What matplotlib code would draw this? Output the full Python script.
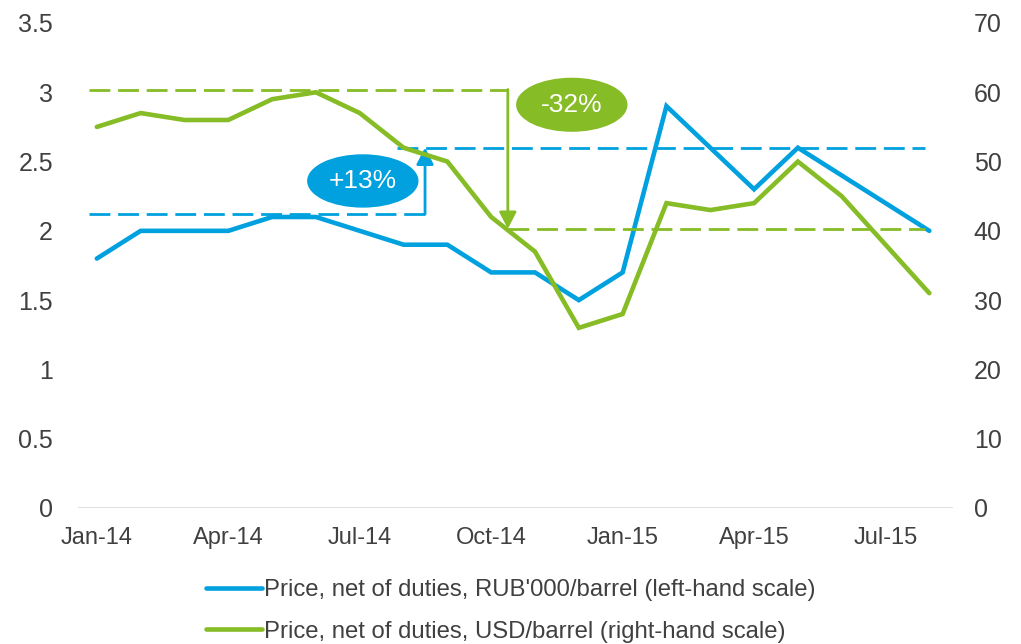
import matplotlib
matplotlib.use("Agg")
import matplotlib.pyplot as plt
from matplotlib.patches import Ellipse

# ── data ─────────────────────────────────────────────────────────────────────
MONTHS = ["Jan-14", "Feb-14", "Mar-14", "Apr-14", "May-14", "Jun-14", "Jul-14",
          "Aug-14", "Sep-14", "Oct-14", "Nov-14", "Dec-14", "Jan-15", "Feb-15",
          "Mar-15", "Apr-15", "May-15", "Jun-15", "Jul-15", "Aug-15"]
RUB_PRICE = [1.8, 2.0, 2.0, 2.0, 2.1, 2.1, 2.0, 1.9, 1.9, 1.7,
             1.7, 1.5, 1.7, 2.9, 2.6, 2.3, 2.6, 2.4, 2.2, 2.0]
USD_PRICE = [55, 57, 56, 56, 59, 60, 57, 52, 50, 42,
             37, 26, 28, 44, 43, 44, 50, 45, 38, 31]
TICK_LABELS = ["Jan-14", "Apr-14", "Jul-14", "Oct-14", "Jan-15", "Apr-15", "Jul-15"]

RUB_FROM, RUB_TO = 2.12, 2.60      # left scale, +13%
USD_FROM, USD_TO = 60.4, 40.3      # right scale, -32%

BLUE = "#00A1DE"
GREEN = "#86BC25"
TEXT = "#404040"

plt.rcParams["font.family"] = ["Liberation Sans", "DejaVu Sans"]

fig = plt.figure(figsize=(10.21, 6.44), dpi=100)
ax = fig.add_axes([0.0764, 0.2112, 0.857, 0.7531])
ax2 = ax.twinx()

x = list(range(len(MONTHS)))
l1, = ax.plot(x, RUB_PRICE, color=BLUE, lw=3.3, solid_capstyle="round",
              solid_joinstyle="miter", zorder=3,
              label="Price, net of duties, RUB'000/barrel (left-hand scale)")
l2, = ax2.plot(x, USD_PRICE, color=GREEN, lw=3.3, solid_capstyle="round",
               solid_joinstyle="miter", zorder=3,
               label="Price, net of duties, USD/barrel (right-hand scale)")

ax.set_xlim(-0.43, 19.54)
ax.set_ylim(0, 3.5)
ax2.set_ylim(0, 70)
ax.set_yticks([0, 0.5, 1, 1.5, 2, 2.5, 3, 3.5])
ax.set_yticklabels(["0", "0.5", "1", "1.5", "2", "2.5", "3", "3.5"])
ax2.set_yticks(range(0, 71, 10))
ax.set_xticks([MONTHS.index(m) for m in TICK_LABELS])
ax.set_xticklabels(TICK_LABELS)

for a in (ax, ax2):
    for s in a.spines.values():
        s.set_visible(False)
ax.tick_params(axis="y", length=0, pad=18, labelsize=18, labelcolor=TEXT)
ax.tick_params(axis="x", length=0, pad=14, labelsize=17, labelcolor=TEXT)
ax2.tick_params(axis="y", length=0, pad=15, labelsize=18, labelcolor=TEXT)
ax.axhline(0, color="#D9D9D9", lw=1.2, zorder=1)

# ── annotations: dashed reference lines, arrows, bubbles ────────────────────
dash = dict(lw=2.0, dashes=(7.5, 2.8))
ax.plot([-0.18, 7.49], [RUB_FROM, RUB_FROM], color=BLUE, **dash, zorder=2)
ax.plot([6.85, 18.9], [RUB_TO, RUB_TO], color=BLUE, **dash, zorder=2)
ax2.plot([-0.18, 9.38], [USD_FROM, USD_FROM], color=GREEN, **dash, zorder=2)
ax2.plot([9.38, 18.9], [USD_TO, USD_TO], color=GREEN, **dash, zorder=2)

head = "-|>,head_length=1.0,head_width=0.52"
ax.annotate("", xy=(7.49, RUB_TO), xytext=(7.49, RUB_FROM),
            arrowprops=dict(arrowstyle=head, color=BLUE, lw=2.0,
                            shrinkA=0, shrinkB=0), zorder=4)
ax2.annotate("", xy=(9.38, USD_TO), xytext=(9.38, USD_FROM),
             arrowprops=dict(arrowstyle=head, color=GREEN, lw=2.0,
                             shrinkA=0, shrinkB=0), zorder=4)

pct_rub = "+13%"
pct_usd = "-32%"
ax2.add_patch(Ellipse((6.07, 47.2), 2.51, 7.5, color=BLUE, zorder=5))
ax2.text(6.07, 47.2, pct_rub, color="white", fontsize=19,
         ha="center", va="center", zorder=6)
ax2.add_patch(Ellipse((10.84, 58.2), 2.51, 7.6, color=GREEN, zorder=5))
ax2.text(10.84, 58.2, pct_usd, color="white", fontsize=19,
         ha="center", va="center", zorder=6)

fig.legend(handles=[l1, l2], loc="upper left", bbox_to_anchor=(0.2015, 0.101),
           frameon=False, fontsize=17.2, handlelength=2.34, handletextpad=0.12,
           labelspacing=0.82, borderaxespad=0, borderpad=0, labelcolor=TEXT)

fig.savefig("out.png", dpi=100)
